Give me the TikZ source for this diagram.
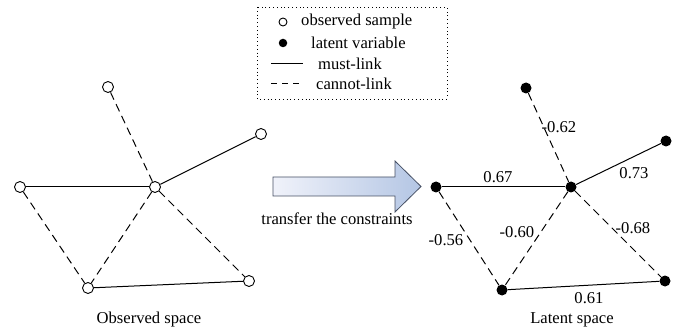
\documentclass[tikz,border=0pt]{standalone}
\usepackage{fontspec}
\setmainfont{Liberation Serif}
\definecolor{arrowlight}{RGB}{240,242,250}
\definecolor{arrowdark}{RGB}{180,198,228}
\definecolor{arrowedge}{RGB}{70,80,100}
\begin{document}
\begin{tikzpicture}[x=1pt,y=-1pt,
  every node/.style={font=\fontsize{16.6}{19}\selectfont,inner sep=0pt},
  obs/.style={circle,draw,fill=white,line width=0.9pt,minimum size=11pt},
  lat/.style={circle,fill=black,minimum size=11pt},
  must/.style={line width=1pt},
  cannot/.style={line width=1pt,dash pattern=on 8pt off 5pt}]
\useasboundingbox (0,0) rectangle (680,331);

\draw[line width=0.8pt,dash pattern=on 0.8pt off 3pt] (257,7) rectangle (447,99);
\node[obs,minimum size=8pt] (legobs) at (283,22) {};
\node[anchor=west] (legobstext) at (301,22) {observed sample};
\node[lat,minimum size=8.5pt] (leglat) at (283,43) {};
\node[anchor=west] (leglattext) at (311,43) {latent variable};
\coordinate (legm1) at (271,64);
\coordinate (legm2) at (303,64);
\draw[must] (legm1) -- (legm2);
\node[anchor=west] (legmtext) at (318,64) {must-link};
\coordinate (legc1) at (271,84);
\coordinate (legc2) at (303,84);
\draw[cannot,dash pattern=on 6pt off 5pt] (legc1) -- (legc2);
\node[anchor=west] (legctext) at (316,84) {cannot-link};

\node[obs] (T1) at (108,87) {};
\node[obs] (R1) at (261,134) {};
\node[obs] (C1) at (155,187) {};
\node[obs] (L1) at (20,187) {};
\node[obs] (BL1) at (88,288) {};
\node[obs] (BR1) at (249,281) {};
\draw[must] (L1) -- (C1);
\draw[must] (C1) -- (R1);
\draw[must] (BL1) -- (BR1);
\draw[cannot] (T1) -- (C1);
\draw[cannot] (L1) -- (BL1);
\draw[cannot] (C1) -- (BL1);
\draw[cannot] (C1) -- (BR1);
\node (obsname) at (149,320) {Observed space};

\shadedraw[left color=arrowlight,right color=arrowdark,draw=arrowedge,line width=0.8pt]
  (273,177) -- (395,177) -- (395,161) -- (421,186.5) -- (395,212) -- (395,196) -- (273,196) -- cycle;
\node (transfer) at (337,219) {transfer the constraints};

\node[lat] (T2) at (526,88) {};
\node[lat] (R2) at (666,141) {};
\node[lat] (C2) at (571,187) {};
\node[lat] (L2) at (436,187) {};
\node[lat] (BL2) at (502,290) {};
\node[lat] (BR2) at (665,281) {};
\draw[must] (L2) -- (C2);
\draw[must] (C2) -- (R2);
\draw[must] (BL2) -- (BR2);
\draw[cannot] (T2) -- (C2);
\draw[cannot] (L2) -- (BL2);
\draw[cannot] (C2) -- (BL2);
\draw[cannot] (C2) -- (BR2);
\node (w1) at (498,177) {0.67};
\node (w2) at (559,127) {-0.62};
\node (w3) at (634,173) {0.73};
\node (w4) at (517,232) {-0.60};
\node (w5) at (633,228) {-0.68};
\node (w6) at (446,240) {-0.56};
\node (w7) at (589,298) {0.61};
\node (latname) at (572,320) {Latent space};
\end{tikzpicture}
\end{document}
